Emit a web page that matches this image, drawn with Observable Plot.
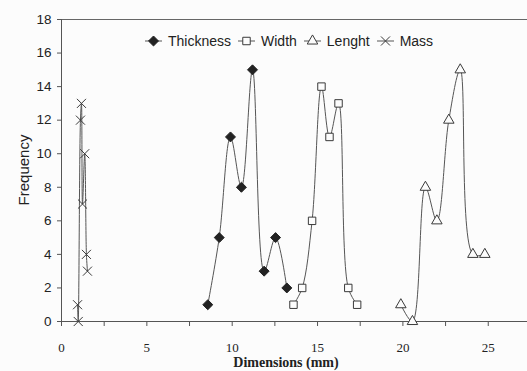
<!DOCTYPE html>
<html>
<head>
<meta charset="utf-8">
<script src="https://cdn.jsdelivr.net/npm/d3@7"></script>
<script src="https://cdn.jsdelivr.net/npm/@observablehq/plot@0.6"></script>
<style>
  html, body { margin: 0; padding: 0; background: #fcfcfc; }
  #wrap { position: relative; width: 527px; height: 371px; background: #fcfcfc; overflow: hidden; }
  #wrap svg.chart { position: absolute; left: 0; top: 0; }
  .ylab { position: absolute; left: 23px; top: 170px; transform: translate(-50%, -50%) rotate(-90deg);
          font: 15px "Liberation Sans", Arial, sans-serif; color: #222; white-space: nowrap; }
  .xlab { position: absolute; left: 286px; top: 363px; transform: translate(-50%, -50%);
          font: bold 14px "Liberation Serif", "Times New Roman", serif; color: #222; white-space: nowrap; }
  .legend { position: absolute; left: 145px; top: 33px; display: flex; align-items: center;
            font: 14px "Liberation Sans", Arial, sans-serif; color: #222; white-space: nowrap; }
  .legend .item { display: flex; align-items: center; margin-right: 7px; }
  .legend svg { margin-right: 6px; }
</style>
</head>
<body>
<div id="wrap"></div>
<script>
// ---- data ----
const seriesNames = ["Thickness", "Width", "Lenght", "Mass"];
const thicknessX = [8.57, 9.24, 9.9, 10.54, 11.19, 11.87, 12.54, 13.2];
const thicknessY = [1, 5, 11, 8, 15, 3, 5, 2];
const widthX = [13.59, 14.1, 14.68, 15.23, 15.7, 16.23, 16.8, 17.32];
const widthY = [1, 2, 6, 14, 11, 13, 2, 1];
const lengthX = [19.88, 20.56, 21.32, 21.99, 22.69, 23.36, 24.1, 24.8];
const lengthY = [1, 0, 8, 6, 12, 15, 4, 4];
const massX = [0.94, 0.98, 1.11, 1.17, 1.23, 1.36, 1.46, 1.52];
const massY = [1, 0, 12, 13, 7, 10, 4, 3];
const xTickValues = [0, 2.5, 5, 7.5, 10, 12.5, 15, 17.5, 20, 22.5, 25];
const xTickLabels = ["0", "", "5", "", "10", "", "15", "", "20", "", "25"];
const yTickValues = [0, 2, 4, 6, 8, 10, 12, 14, 16, 18];

const toRows = (xs, ys) => xs.map((x, i) => ({x, y: ys[i]}));
const thickness = toRows(thicknessX, thicknessY);
const widthS = toRows(widthX, widthY);
const lengthS = toRows(lengthX, lengthY);
const mass = toRows(massX, massY);

const lineCol = "#555";
const markCol = "#3a3a3a";
const bg = "#fcfcfc";
const curve = "catmull-rom";

const chart = Plot.plot({
  width: 527, height: 371,
  marginLeft: 61, marginRight: 0, marginTop: 19, marginBottom: 50,
  x: {domain: [0, 27.3]},
  y: {domain: [0, 18]},
  style: {background: "transparent", color: "#222"},
  marks: [
    Plot.ruleY([18], {stroke: "#666", strokeWidth: 1}),
    Plot.axisY({ticks: yTickValues, tickSize: 4, tickPadding: 6, label: null,
      fontSize: 13.5, fontFamily: "Liberation Sans, Arial, sans-serif", stroke: "#555"}),
    Plot.axisX({ticks: xTickValues, tickSize: 5, tickPadding: 16, label: null,
      tickFormat: d => xTickLabels[xTickValues.indexOf(d)],
      fontSize: 13, fontFamily: "Liberation Serif, Times New Roman, serif", stroke: "#555"}),
    Plot.ruleX([0], {stroke: "#555"}),
    Plot.ruleY([0], {stroke: "#555"}),
    Plot.line(thickness, {x: "x", y: "y", stroke: lineCol, strokeWidth: 1, curve}),
    Plot.line(widthS, {x: "x", y: "y", stroke: lineCol, strokeWidth: 1, curve}),
    Plot.line(lengthS, {x: "x", y: "y", stroke: lineCol, strokeWidth: 1, curve}),
    Plot.line(mass, {x: "x", y: "y", stroke: lineCol, strokeWidth: 1, curve}),
    Plot.dot(thickness, {x: "x", y: "y", symbol: "diamond2", r: 4.5, fill: "#222", stroke: "#222", strokeWidth: 1}),
    Plot.dot(widthS, {x: "x", y: "y", symbol: "square", r: 4.2, fill: bg, stroke: markCol, strokeWidth: 1}),
    Plot.dot(lengthS, {x: "x", y: "y", symbol: "triangle", r: 3.9, fill: bg, stroke: markCol, strokeWidth: 1}),
    Plot.dot(mass, {x: "x", y: "y", symbol: "times", r: 4.2, stroke: markCol, strokeWidth: 1})
  ]
});
chart.classList.add("chart");
const wrap = document.getElementById("wrap");
wrap.appendChild(chart);

// axis titles
const yl = document.createElement("div"); yl.className = "ylab"; yl.textContent = "Frequency"; wrap.appendChild(yl);
const xl = document.createElement("div"); xl.className = "xlab"; xl.textContent = "Dimensions (mm)"; wrap.appendChild(xl);

// legend
const symbols = ["diamond2", "square", "triangle", "times"];
const symFill = ["#222", bg, bg, "none"];
const symStroke = ["#222", markCol, markCol, markCol];
const symR = [4.5, 4.2, 3.9, 4.2];
const legend = document.createElement("div"); legend.className = "legend";
seriesNames.forEach((name, i) => {
  const item = document.createElement("div"); item.className = "item";
  const sym = d3.symbol(Plot.symbol ? d3.symbolsFill.concat(d3.symbolsStroke)[0] : d3.symbolCircle);
  const symMap = {diamond2: d3.symbolDiamond2, square: d3.symbolSquare, triangle: d3.symbolTriangle, times: d3.symbolTimes};
  const path = d3.symbol(symMap[symbols[i]], Math.PI * symR[i] * symR[i])();
  const s = d3.create("svg").attr("width", 17).attr("height", 14);
  s.append("line").attr("x1", 0).attr("x2", 17).attr("y1", 7).attr("y2", 7).attr("stroke", lineCol).attr("stroke-width", 1);
  s.append("path").attr("d", path).attr("transform", "translate(8.5,7)")
    .attr("fill", symFill[i]).attr("stroke", symStroke[i]).attr("stroke-width", 1);
  item.appendChild(s.node());
  const t = document.createElement("span"); t.textContent = name; item.appendChild(t);
  legend.appendChild(item);
});
wrap.appendChild(legend);
</script>
</body>
</html>
